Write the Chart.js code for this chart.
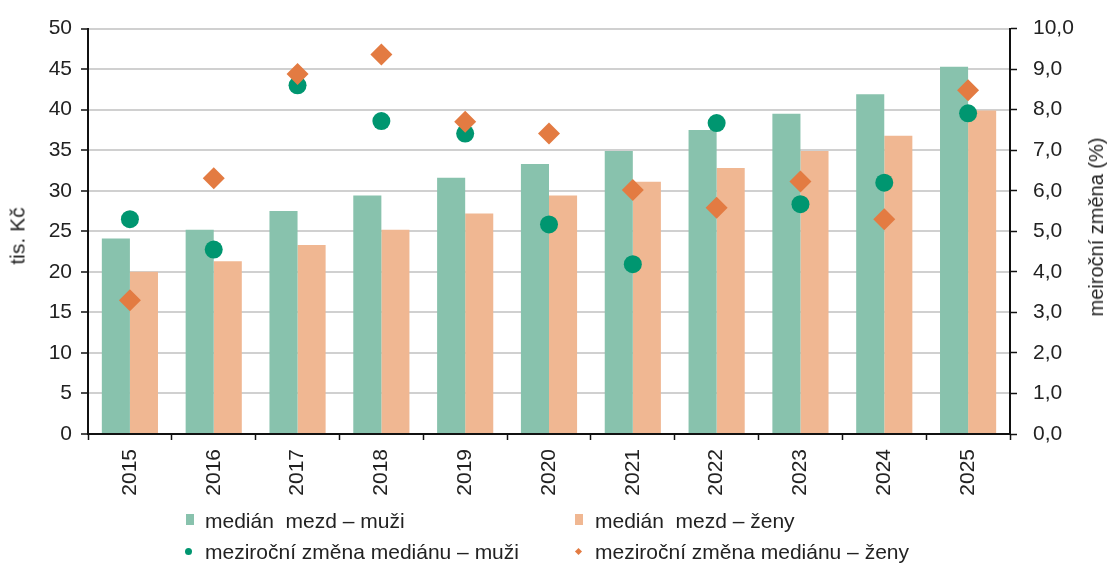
<!DOCTYPE html>
<html>
<head>
<meta charset="utf-8">
<script src="https://cdn.jsdelivr.net/npm/chart.js@4"></script>
<style>
  html, body { margin: 0; padding: 0; background: #fff; }
  #wrap { position: relative; width: 1108px; height: 563px; font-family: "Liberation Sans", Arial, sans-serif; color: #222; }
  canvas { position: absolute; left: 0; top: 0; }
  .atitle { position: absolute; white-space: nowrap; transform: translate(-50%, -50%) rotate(-90deg); line-height: 1; }
  .leg { position: absolute; font-size: 21px; line-height: 1; white-space: pre; transform: translateY(-50%); }
  .mk { position: absolute; }
</style>
</head>
<body>
<div id="wrap">
  <canvas id="c" width="1108" height="563"></canvas>
  <div class="atitle" style="left:17px; top:236px; font-size:21px;">tis. Kč</div>
  <div class="atitle" style="left:1096px; top:227px; font-size:20px;">meiroční změna (%)</div>

  <div class="mk" style="left:186px; top:514px; width:8px; height:11px; background:#88C2AD;"></div>
  <div class="leg" style="left:205px; top:520px;">medián  mezd – muži</div>
  <div class="mk" style="left:185px; top:548px; width:7px; height:7px; border-radius:50%; background:#009670;"></div>
  <div class="leg" style="left:205px; top:551px;">meziroční změna mediánu – muži</div>

  <div class="mk" style="left:575px; top:514px; width:8px; height:11px; background:#F0B792;"></div>
  <div class="leg" style="left:595px; top:520px;">medián  mezd – ženy</div>
  <div class="mk" style="left:576px; top:549px; width:5px; height:5px; transform:rotate(45deg); background:#E37B42;"></div>
  <div class="leg" style="left:595px; top:551px;">meziroční změna mediánu – ženy</div>
</div>
<script>
const years = ['2015','2016','2017','2018','2019','2020','2021','2022','2023','2024','2025'];
const medianMen = [24.1, 25.2, 27.5, 29.4, 31.6, 33.3, 34.9, 37.5, 39.5, 41.9, 45.3];
const medianWomen = [20.0, 21.3, 23.3, 25.2, 27.2, 29.4, 31.1, 32.8, 34.9, 36.8, 39.9];
const changeMen = [5.3, 4.55, 8.6, 7.72, 7.41, 5.17, 4.19, 7.67, 5.67, 6.2, 7.91];
const changeWomen = [3.3, 6.31, 8.88, 9.36, 7.7, 7.41, 6.02, 5.58, 6.23, 5.3, 8.48];

const FONT = { family: '"Liberation Sans", Arial, sans-serif', size: 21 };
const TXT = '#222';

new Chart(document.getElementById('c'), {
  type: 'bar',
  data: {
    labels: years,
    datasets: [
      { type: 'line', label: 'meziroční změna mediánu – ženy', data: changeWomen, yAxisID: 'y1',
        showLine: false, pointStyle: 'rectRot', pointRadius: 11, pointHoverRadius: 11,
        pointBackgroundColor: '#E37B42', pointBorderWidth: 0, borderColor: '#E37B42', backgroundColor: '#E37B42', order: 0 },
      { type: 'line', label: 'meziroční změna mediánu – muži', data: changeMen, yAxisID: 'y1',
        showLine: false, pointStyle: 'circle', pointRadius: 9, pointHoverRadius: 9,
        pointBackgroundColor: '#009670', pointBorderWidth: 0, borderColor: '#009670', backgroundColor: '#009670', order: 1 },
      { label: 'medián mezd – muži', data: medianMen, yAxisID: 'y', backgroundColor: '#88C2AD',
        categoryPercentage: 0.67, barPercentage: 1.0, order: 2 },
      { label: 'medián mezd – ženy', data: medianWomen, yAxisID: 'y', backgroundColor: '#F0B792',
        categoryPercentage: 0.67, barPercentage: 1.0, order: 3 }
    ]
  },
  options: {
    responsive: false,
    animation: false,
    layout: { padding: { top: 25, left: 0, right: 0, bottom: 0 } },
    plugins: { legend: { display: false }, tooltip: { enabled: false } },
    scales: {
      x: {
        offset: true,
        grid: { offset: true, drawOnChartArea: false, drawTicks: true, tickLength: 6, tickColor: '#111', tickWidth: 1.5 },
        border: { display: true, color: '#111', width: 2 },
        ticks: { font: FONT, color: TXT, minRotation: 90, maxRotation: 90, autoSkip: false, padding: 9 },
        afterFit: (s) => { s.height = 129; }
      },
      y: {
        position: 'left', min: 0, max: 50,
        ticks: { stepSize: 5, font: FONT, color: TXT, padding: 9 },
        grid: { color: '#d0d0d0', lineWidth: 2, tickColor: '#111', tickLength: 7, tickWidth: 1.5 },
        border: { display: true, color: '#111', width: 2 },
        afterFit: (s) => { s.width = 88; }
      },
      y1: {
        position: 'right', min: 0, max: 10,
        ticks: { stepSize: 1, font: FONT, color: TXT, padding: 16,
          callback: (v) => Number(v).toFixed(1).replace('.', ',') },
        grid: { drawOnChartArea: false, tickColor: '#111', tickLength: 7, tickWidth: 1.5 },
        border: { display: true, color: '#111', width: 2 },
        afterFit: (s) => { s.width = 98; }
      }
    }
  }
});
</script>
</body>
</html>
